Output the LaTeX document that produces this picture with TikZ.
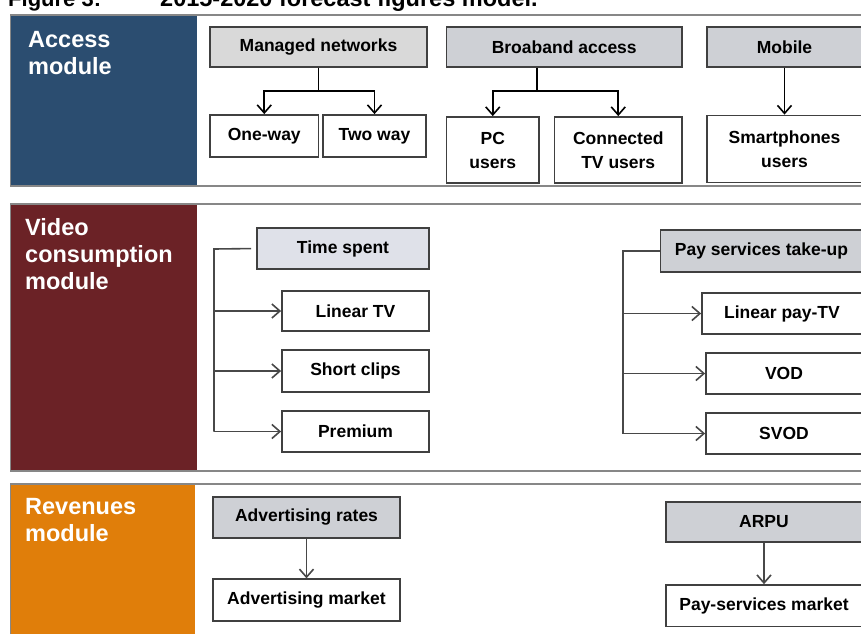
\documentclass[tikz,border=0pt]{standalone}
\usepackage{fontspec}
\setmainfont{Liberation Sans}
\usetikzlibrary{arrows.meta}

\definecolor{accessblue}{RGB}{43,77,112}
\definecolor{videored}{RGB}{107,34,38}
\definecolor{revorange}{RGB}{224,126,10}
\definecolor{boxgray}{RGB}{217,217,217}
\definecolor{boxslate}{RGB}{206,208,213}
\definecolor{boxpale}{RGB}{223,225,233}
\definecolor{edgegray}{RGB}{64,64,64}
\definecolor{linkgray}{RGB}{72,72,72}
\definecolor{framegray}{RGB}{135,135,135}

\begin{document}
\begin{tikzpicture}[x=1pt,y=-1pt,
  panel/.style={draw=framegray, line width=1.5pt, fill=white},
  modlabel/.style={anchor=north west, inner sep=0pt, align=left, text=white,
    font=\bfseries\fontsize{23.5}{27}\selectfont},
  titletext/.style={anchor=base west, inner sep=0pt,
    font=\bfseries\fontsize{22}{22}\selectfont},
  box/.style={draw=edgegray, line width=1.8pt, fill=white, inner sep=0pt,
    align=center, font=\bfseries\fontsize{17.5}{24}\selectfont},
  plainhead/.style={box, fill=boxgray},
  slatehead/.style={box, fill=boxslate},
  palehead/.style={box, fill=boxpale},
  link/.style={draw=black, line width=1.6pt},
  softlink/.style={draw=linkgray, line width=1.6pt},
  arr/.style={link, -{Straight Barb[length=8pt,width=14pt]}},
  softarr/.style={softlink, -{Straight Barb[length=8pt,width=14pt]}},
]
\useasboundingbox (0,0) rectangle (861,633);
\clip (0,0) rectangle (861,633);

% caption line (only its lower part lies inside the page)
\node[titletext] (ttl) at (8,6.5) {Figure 3:};
\node[titletext, font=\bfseries\fontsize{23.5}{23.5}\selectfont] (ttlb) at (160,6.5) {2015-2020 forecast figures model.};

% ---- panel backgrounds ----
\draw[panel] (10.5,15) rectangle (880,186);
\fill[accessblue] (11.25,15.75) rectangle (197,185.25);
\draw[panel] (10.5,204) rectangle (880,471);
\fill[videored] (11.25,204.75) rectangle (197,470.25);
\draw[panel] (10.5,484) rectangle (880,660);
\fill[revorange] (11.25,484.75) rectangle (195,660);

\node[modlabel] (acclab) at (28,31) {Access\\module};
\node[modlabel] (vidlab) at (25,218) {Video\\consumption\\module};
\node[modlabel] (revlab) at (25,498) {Revenues\\module};

% ---- access module ----
\node[plainhead, minimum width=217, minimum height=40] (mn) at (318.5,47) {Managed networks};
\node[slatehead, minimum width=235.5, minimum height=40] (ba) at (564.25,47) {Broaband access};
\node[slatehead, minimum width=155, minimum height=40] (mob) at (784.5,47) {Mobile};
\node[box, minimum width=108.5, minimum height=42] (ow) at (264.25,136) {One-way};
\node[box, minimum width=103, minimum height=42] (tw) at (374.5,136) {Two way};
\node[box, minimum width=92.5, minimum height=66] (pc) at (492.75,150) {PC\\users};
\node[box, minimum width=127.5, minimum height=66] (ctv) at (618.25,150) {Connected\\TV users};
\node[box, minimum width=155, minimum height=67] (sp) at (784.5,149) {Smartphones\\users};

\coordinate (mnj) at (318.5,91);
\draw[link] (mn.south) -- (mnj);
\draw[arr] (mnj) -| (ow.north);
\draw[arr] (mnj) -| (tw.north);
\coordinate (baj) at (537,91);
\draw[link] (baj |- ba.south) -- (baj);
\draw[arr] (baj) -| (pc.north);
\draw[arr] (baj) -| (ctv.north);
\draw[arr] (mob.south) -- (sp.north);

% ---- video consumption module ----
\node[palehead, minimum width=172, minimum height=41] (ts) at (343,248.5) {Time spent};
\node[box, minimum width=147, minimum height=40.5] (ltv) at (355.5,311) {Linear TV};
\node[box, minimum width=147, minimum height=41.5] (sc) at (355.5,371) {Short clips};
\node[box, minimum width=147, minimum height=41] (pr) at (355.5,431.5) {Premium};

\coordinate (tsb) at (214,249);
\draw[softlink, shorten <=5pt] (ts.west) -- (tsb) -- (tsb |- pr.west);
\draw[softarr] (tsb |- ltv.west) -- (ltv.west);
\draw[softarr] (tsb |- sc.west) -- (sc.west);
\draw[softarr] (tsb |- pr.west) -- (pr.west);

\node[slatehead, minimum width=202, minimum height=42] (pst) at (761.5,251) {Pay services take-up};
\node[box, minimum width=160, minimum height=41] (lpt) at (782,313.5) {Linear pay-TV};
\node[box, minimum width=156, minimum height=41] (vod) at (784,373.5) {VOD};
\node[box, minimum width=156, minimum height=41] (svod) at (784,433.5) {SVOD};

\coordinate (psb) at (623,251);
\draw[softlink] (pst.west) -- (psb) -- (psb |- svod.west);
\draw[softarr] (psb |- lpt.west) -- (lpt.west);
\draw[softarr] (psb |- vod.west) -- (vod.west);
\draw[softarr] (psb |- svod.west) -- (svod.west);

% ---- revenues module ----
\node[slatehead, minimum width=187.5, minimum height=41] (ar) at (306.5,517.2) {Advertising rates};
\node[box, minimum width=187.5, minimum height=41.5] (am) at (306.5,600) {Advertising market};
\node[slatehead, minimum width=196, minimum height=40] (arpu) at (764,521.7) {ARPU};
\node[box, minimum width=196, minimum height=41.5] (psm) at (764,605.8) {Pay-services market};

\draw[softarr] (ar.south) -- (am.north);
\draw[softarr] (arpu.south) -- (psm.north);
\end{tikzpicture}
\end{document}
